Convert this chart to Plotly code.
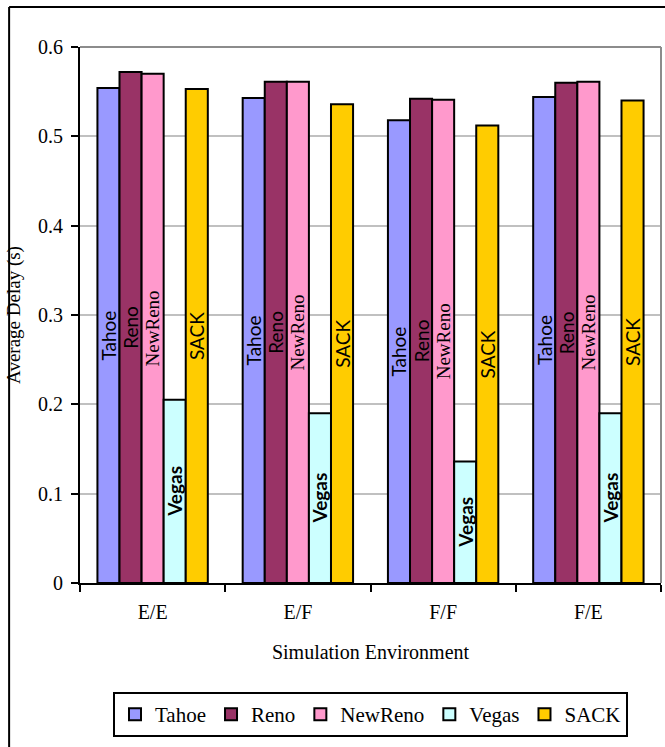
import plotly.graph_objects as go

categories = ["E/E", "E/F", "F/F", "F/E"]
series_names = ["Tahoe", "Reno", "NewReno", "Vegas", "SACK"]
tahoe = [0.554, 0.543, 0.518, 0.544]
reno = [0.572, 0.561, 0.542, 0.560]
newreno = [0.570, 0.561, 0.541, 0.561]
vegas = [0.205, 0.190, 0.136, 0.190]
sack = [0.553, 0.536, 0.512, 0.540]
y_ticks = [0, 0.1, 0.2, 0.3, 0.4, 0.5, 0.6]
y_tick_labels = ["0", "0.1", "0.2", "0.3", "0.4", "0.5", "0.6"]

values = [tahoe, reno, newreno, vegas, sack]
colors = ["#9999FF", "#993366", "#FF99CC", "#CCFFFF", "#FFCC00"]
SANS = "Lato"
SERIF = "Liberation Serif"
label_fonts = [
    dict(family=SANS, size=19, color="black"),
    dict(family=SANS, size=19, color="black"),
    dict(family=SERIF, size=19, color="black"),
    dict(family=SANS, size=19, color="black", weight="bold"),
    dict(family=SANS, size=19, color="black"),
]

fig = go.Figure()
for name, vals, col, tf in zip(series_names, values, colors, label_fonts):
    fig.add_trace(go.Bar(
        name=name, x=categories, y=vals,
        marker=dict(color=col, line=dict(color="black", width=2)),
        text=[name] * len(vals), textposition="inside", insidetextanchor="middle",
        textangle=-90, textfont=tf, constraintext="none", cliponaxis=False,
    ))

fig.update_layout(
    width=665, height=747,
    margin=dict(l=80, r=4, t=47, b=164),
    paper_bgcolor="white", plot_bgcolor="white",
    barmode="group", bargap=0.24, bargroupgap=0,
    uniformtext=dict(mode="show", minsize=19),
    font=dict(family=SERIF, size=20, color="black"),
    showlegend=True,
    legend=dict(orientation="h", x=0.5, xanchor="center", y=-0.2034, yanchor="top",
                bordercolor="black", borderwidth=2, font=dict(family=SERIF, size=21, color="black"),
                bgcolor="white", traceorder="normal"),
    xaxis=dict(showline=True, linecolor="black", linewidth=2, ticks="outside",
               tickson="boundaries", ticklen=7, tickwidth=2, tickcolor="black",
               showgrid=False, automargin=False, ticklabelstandoff=10,
               tickfont=dict(family=SERIF, size=20, color="black"),
               title=dict(text="Simulation Environment", font=dict(family=SERIF, size=20, color="black"), standoff=23)),
    yaxis=dict(range=[0, 0.6], tickvals=y_ticks, ticktext=y_tick_labels,
               showline=True, linecolor="black", linewidth=2, ticks="outside",
               ticklen=7, tickwidth=2, tickcolor="black",
               showgrid=True, gridcolor="#C0C0C0", gridwidth=2, zeroline=False,
               automargin=False, ticklabelstandoff=4,
               tickfont=dict(family=SERIF, size=20, color="black"),
               title=dict(text="Average Delay (s)", font=dict(family=SERIF, size=19, color="black"), standoff=12)),
    shapes=[
        dict(type="line", xref="paper", yref="paper", x0=0, x1=1, y0=1, y1=1,
             line=dict(color="#8C8C8C", width=2), layer="above"),
        dict(type="line", xref="paper", yref="paper", x0=1, x1=1, y0=0, y1=1,
             line=dict(color="#8C8C8C", width=2), layer="above"),
        dict(type="line", xref="paper", yref="paper", x0=-0.122, x1=1.2, y0=1.0746, y1=1.0746,
             line=dict(color="black", width=2)),
        dict(type="line", xref="paper", yref="paper", x0=-0.122, x1=-0.122, y0=1.0746, y1=-0.5,
             line=dict(color="black", width=2)),
    ],
)

fig.write_html("out.html", config={"displayModeBar": False},
               post_script="document.body.style.margin='0px';")
